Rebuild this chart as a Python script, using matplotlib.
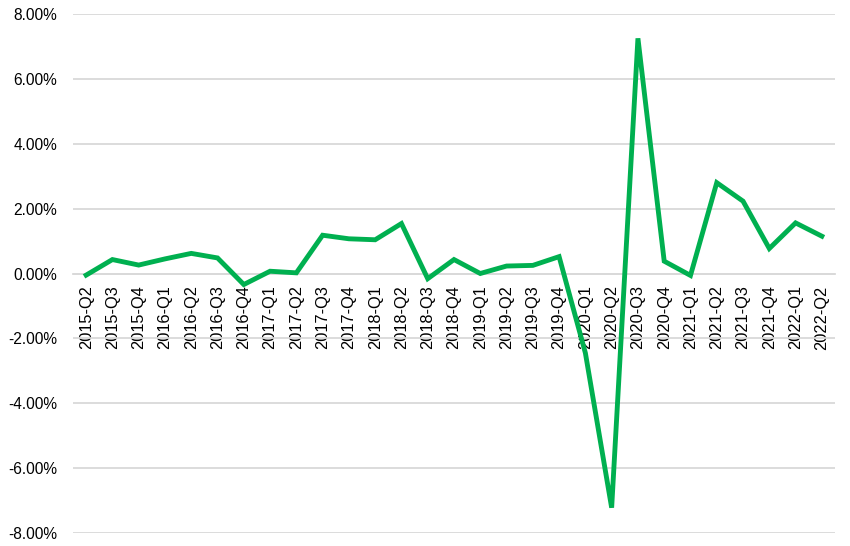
"""
Quarter-on-quarter growth, 2015-Q2 to 2022-Q2.
"""
import matplotlib
matplotlib.use("Agg")
import matplotlib.pyplot as plt
import matplotlib.ticker as mticker

quarters = [
    "2015-Q2", "2015-Q3", "2015-Q4",
    "2016-Q1", "2016-Q2", "2016-Q3", "2016-Q4",
    "2017-Q1", "2017-Q2", "2017-Q3", "2017-Q4",
    "2018-Q1", "2018-Q2", "2018-Q3", "2018-Q4",
    "2019-Q1", "2019-Q2", "2019-Q3", "2019-Q4",
    "2020-Q1", "2020-Q2", "2020-Q3", "2020-Q4",
    "2021-Q1", "2021-Q2", "2021-Q3", "2021-Q4",
    "2022-Q1", "2022-Q2",
]
growth = [
    -0.05, 0.43, 0.26,
    0.45, 0.62, 0.48, -0.34,
    0.07, 0.02, 1.18, 1.07,
    1.04, 1.54, -0.16, 0.43,
    0.00, 0.23, 0.25, 0.52,
    -2.45, -7.22, 7.25, 0.38,
    -0.06, 2.80, 2.23, 0.77,
    1.56, 1.15,
]
y_ticks = [-8, -6, -4, -2, 0, 2, 4, 6, 8]

plt.rcParams["font.family"] = ["Liberation Sans", "DejaVu Sans"]

fig = plt.figure(figsize=(8.5, 5.46), dpi=100)
ax = fig.add_axes([73 / 850, 1 - 533 / 546, (835 - 73) / 850, (533 - 14) / 546])

x = list(range(len(quarters)))
ax.plot(x, growth, color="#00b050", linewidth=3.5, solid_joinstyle="miter", zorder=3)

ax.set_xlim(-0.5, len(quarters) - 0.5)
ax.set_ylim(-8, 8)
ax.set_yticks(y_ticks)
ax.yaxis.set_major_formatter(mticker.FuncFormatter(lambda v, _: f"{v:.2f}%"))
ax.grid(True, axis="y", color="#d9d9d9", linewidth=1.3, zorder=1)
ax.set_axisbelow(True)

for name in ["top", "right", "left"]:
    ax.spines[name].set_visible(False)
ax.spines["bottom"].set_position(("data", 0))
ax.spines["bottom"].set_color("#d9d9d9")
ax.spines["bottom"].set_linewidth(1.3)

ax.set_xticks(x)
ax.set_xticklabels(quarters, rotation=90, va="top", ha="center")
ax.tick_params(axis="x", length=0, pad=8.5, labelsize=11.8, colors="black")
ax.tick_params(axis="y", length=0, pad=11.5, labelsize=11.2, colors="black")

fig.savefig("out.png", dpi=100)
